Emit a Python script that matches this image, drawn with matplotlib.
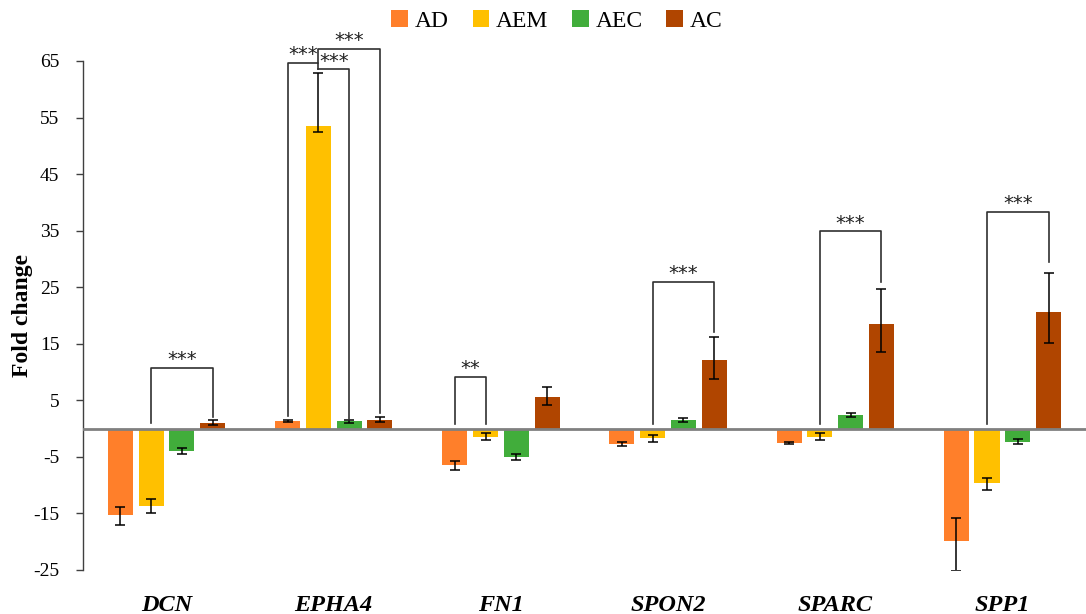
import matplotlib
matplotlib.use("Agg")
import matplotlib.pyplot as plt
from matplotlib.patches import Patch
import numpy as np

genes = ["DCN", "EPHA4", "FN1", "SPON2", "SPARC", "SPP1"]
series = ["AD", "AEM", "AEC", "AC"]
colors = ["#FF7F2A", "#FFC000", "#41AD3B", "#B04500"]

AD = [-15.2, 1.35, -6.4, -2.7, -2.6, -19.9]
AEM = [-13.7, 53.5, -1.4, -1.7, -1.4, -9.7]
AEC = [-4.0, 1.3, -5.0, 1.5, 2.4, -2.3]
AC = [1.05, 1.5, 5.5, 12.1, 18.5, 20.6]

# error bar extents (low, high)
AD_err_lo = [1.8, 0.2, 1.0, 0.4, 0.2, 5.3]
AD_err_hi = [1.4, 0.2, 0.6, 0.4, 0.2, 4.1]
AEM_err_lo = [1.3, 1.1, 0.6, 0.6, 0.6, 1.1]
AEM_err_hi = [1.2, 9.4, 0.6, 0.6, 0.6, 1.0]
AEC_err_lo = [0.5, 0.25, 0.5, 0.3, 0.4, 0.4]
AEC_err_hi = [0.5, 0.25, 0.5, 0.3, 0.4, 0.4]
AC_err_lo = [0.45, 0.4, 1.4, 3.3, 4.9, 5.4]
AC_err_hi = [0.45, 0.6, 1.9, 4.1, 6.2, 6.9]

# significance brackets
sig_gene = [0, 1, 1, 1, 2, 3, 4, 5]
sig_a = [1, 0, 1, 1, 0, 1, 1, 1]
sig_b = [3, 1, 2, 3, 1, 3, 3, 3]
sig_top = [10.7, 64.7, 63.5, 67.1, 9.2, 26.0, 34.9, 38.3]
sig_leg_a = [0.9, 2.2, 63.5, 64.7, 0.8, 0.8, 0.8, 0.8]
sig_leg_b = [2.1, 63.5, 1.6, 2.7, 0.8, 17.0, 26.0, 29.5]
sig_label = ["***", "***", "***", "***", "**", "***", "***", "***"]

values = [AD, AEM, AEC, AC]
errs = [(AD_err_lo, AD_err_hi), (AEM_err_lo, AEM_err_hi),
        (AEC_err_lo, AEC_err_hi), (AC_err_lo, AC_err_hi)]

plt.rcParams['font.family'] = ['Liberation Serif', 'DejaVu Serif']

fig = plt.figure(figsize=(10.86, 6.14), dpi=100)
ax = fig.add_axes([0.0764, 0.0717, 0.9236, 0.8290])

x = np.arange(len(genes))
offsets = [-0.276, -0.092, 0.092, 0.276]
width = 0.15

for k in range(4):
    ax.bar(x + offsets[k], values[k], width, color=colors[k], zorder=2)
    ax.errorbar(x + offsets[k], values[k], yerr=[errs[k][0], errs[k][1]],
                fmt="none", ecolor="black", elinewidth=1.1, capsize=3.5,
                capthick=1.1, zorder=3)

ax.axhline(0, color="#808080", linewidth=2, zorder=4)

for g, a, b, top, la, lb in zip(sig_gene, sig_a, sig_b, sig_top,
                                sig_leg_a, sig_leg_b):
    xa = x[g] + offsets[a]
    xb = x[g] + offsets[b]
    ax.plot([xa, xa, xb, xb], [la, top, top, lb], color="#303030",
            linewidth=1.2, clip_on=False, zorder=5)

for g, a, b, top, lab in zip(sig_gene, sig_a, sig_b, sig_top, sig_label):
    xa = x[g] + offsets[a]
    xb = x[g] + offsets[b]
    ax.annotate(lab, xy=((xa + xb) / 2, top), xytext=(0, -1),
                textcoords="offset points", ha="center", va="bottom",
                fontsize=14, family=["DejaVu Sans"], color="#202020",
                annotation_clip=False, zorder=6)

ax.set_xlim(-0.5, 5.5)
ax.set_ylim(-25, 65)
ax.set_yticks(np.arange(-25, 66, 10))
ax.set_yticklabels([str(v) for v in range(-25, 66, 10)], fontsize=14)
ax.set_xticks(x)
ax.set_xticklabels(genes, fontsize=17.5, fontweight="bold", fontstyle="italic")
ax.tick_params(axis="x", length=0, pad=18)
ax.tick_params(axis="y", length=5, width=1, color="#404040", pad=12)

for s in ["top", "right", "bottom"]:
    ax.spines[s].set_visible(False)
ax.spines["left"].set_color("#404040")
ax.spines["left"].set_linewidth(1)

ax.set_ylabel("Fold change", fontsize=17, fontweight="bold", labelpad=0)

handles = [Patch(facecolor=c, edgecolor="none") for c in colors]
fig.legend(handles, series, loc="upper center", bbox_to_anchor=(0.513, 1.018),
           ncol=4, frameon=False, fontsize=17, handlelength=0.7,
           handleheight=0.7, handletextpad=0.3, columnspacing=1.0)

fig.savefig("out.png", dpi=100)
